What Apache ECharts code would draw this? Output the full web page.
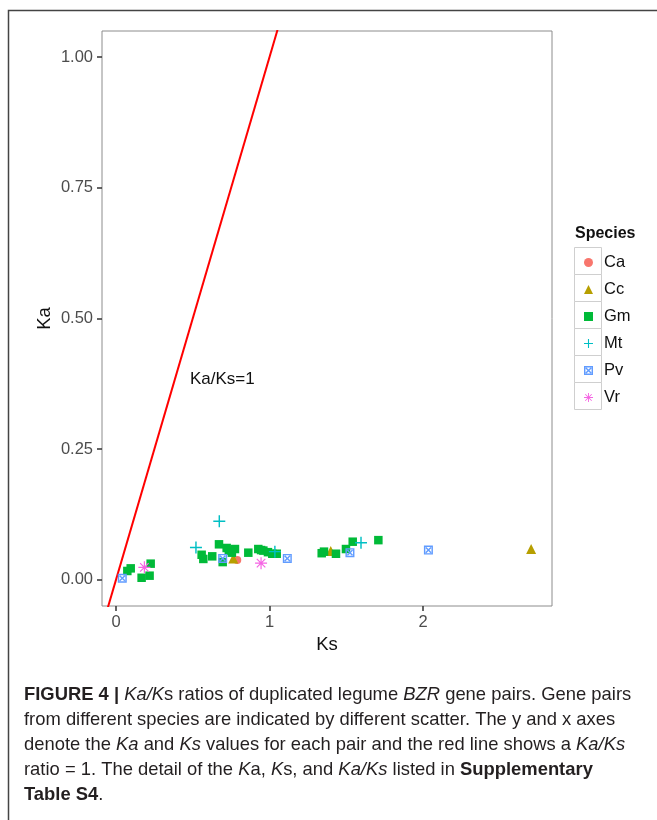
<!DOCTYPE html>
<html>
<head>
<meta charset="utf-8">
<script src="https://cdn.jsdelivr.net/npm/echarts@6/dist/echarts.min.js"></script>
<style>
  html, body { margin: 0; padding: 0; background: #fff; }
  #main { width: 657px; height: 820px; }
</style>
</head>
<body>
<div id="main"></div>
<script>
// Ks / Ka pairs per species
var species = ['Ca', 'Cc', 'Gm', 'Mt', 'Pv', 'Vr']
var caPairs = [[0.79, 0.038]]
var ccPairs = [[0.764, 0.041], [1.399, 0.055], [2.704, 0.059]]
var gmPairs = [
  [0.074, 0.017], [0.096, 0.022], [0.167, 0.004], [0.219, 0.008], [0.226, 0.031],
  [0.558, 0.048], [0.569, 0.040], [0.627, 0.045], [0.671, 0.068], [0.721, 0.061],
  [0.735, 0.056], [0.775, 0.059], [0.755, 0.052], [0.695, 0.034], [0.862, 0.052],
  [0.927, 0.059], [0.945, 0.057], [0.96, 0.056], [0.99, 0.053], [1.018, 0.050],
  [1.047, 0.050], [1.34, 0.051], [1.355, 0.054], [1.433, 0.050], [1.498, 0.059],
  [1.542, 0.073], [1.709, 0.076]
]
var mtPairs = [[0.521, 0.062], [0.673, 0.112], [1.035, 0.054], [1.596, 0.071]]
var pvPairs = [[0.041, 0.003], [0.695, 0.041], [1.116, 0.041], [1.524, 0.052], [2.035, 0.057]]
var vrPairs = [[0.185, 0.024], [0.945, 0.032]]
var ratioLine = [[-0.2, -0.2], [1.2, 1.2]]
var xTicks = [0, 1, 2]
var yTicks = [0, 0.25, 0.5, 0.75, 1]

var colors = ['#F8766D', '#B79F00', '#00BA38', '#00BFC4', '#619CFF', '#F564E3']
var PLUS = 'path://M4.4,0H5.6V4.4H10V5.6H5.6V10H4.4V5.6H0V4.4H4.4Z'
var BOXX = 'path://M0,0H10V10H0ZM1.6,8.4H8.4V1.6H1.6ZM1.6,2.7L2.7,1.6L5,3.9L7.3,1.6L8.4,2.7L6.1,5L8.4,7.3L7.3,8.4L5,6.1L2.7,8.4L1.6,7.3L3.9,5Z'
var STAR = 'path://M4.5,0H5.5V3.8L8.2,1.1L8.9,1.8L6.2,4.5H10V5.5H6.2L8.9,8.2L8.2,8.9L5.5,6.2V10H4.5V6.2L1.8,8.9L1.1,8.2L3.8,5.5H0V4.5H3.8L1.1,1.8L1.8,1.1L4.5,3.8Z'
var shapes = ['circle', 'triangle', 'rect', PLUS, BOXX, STAR]
var sizes = [8, 10, 8.5, 12, 9, 12]
var pairs = [caPairs, ccPairs, gmPairs, mtPairs, pvPairs, vrPairs]

var FONT = 'Liberation Sans, Arial, sans-serif'

var series = species.map(function (name, i) {
  return {
    name: name,
    type: 'scatter',
    data: pairs[i],
    symbol: shapes[i],
    symbolSize: sizes[i],
    itemStyle: { color: colors[i], opacity: 1 },
    z: 3
  }
})
series.unshift({
  name: 'ratio',
  type: 'line',
  data: ratioLine,
  symbol: 'none',
  lineStyle: { color: '#ff0000', width: 2 },
  silent: true,
  z: 2
})

var keyBoxes = species.map(function (s, i) {
  return {
    type: 'rect',
    shape: { x: 574.5, y: 247.5 + i * 27, width: 27, height: 27 },
    style: { fill: '#fff', stroke: '#cfcfcf', lineWidth: 1 },
    z: 0
  }
})

function captionLine(y, parts) {
  var text = parts.map(function (p) { return '{' + p[0] + '|' + p[1] + '}' }).join('')
  return {
    type: 'text',
    left: 24,
    top: y - 11,
    style: {
      text: text,
      rich: {
        n: { fontSize: 18.4, fontFamily: FONT, fill: '#231f20' },
        i: { fontSize: 18.4, fontFamily: FONT, fontStyle: 'italic', fill: '#231f20' },
        b: { fontSize: 18.4, fontFamily: FONT, fontWeight: 'bold', fill: '#231f20' }
      }
    }
  }
}

var option = {
  animation: false,
  backgroundColor: '#fff',
  grid: {
    left: 102, top: 31, width: 450, height: 575,
    show: true, borderColor: '#8c8c8c', borderWidth: 1, backgroundColor: '#fff'
  },
  xAxis: {
    type: 'value', min: -0.091, max: 2.84,
    name: 'Ks', nameLocation: 'middle', nameGap: 29,
    nameTextStyle: { fontSize: 18.5, fontFamily: FONT, color: '#111' },
    axisLine: { show: false, onZero: false },
    splitLine: { show: false },
    axisTick: { show: true, length: 5, customValues: xTicks, lineStyle: { color: '#333', width: 1.5 } },
    axisLabel: { customValues: xTicks, fontSize: 16.5, fontFamily: FONT, color: '#4d4d4d', margin: 8 }
  },
  yAxis: {
    type: 'value', min: -0.05, max: 1.05,
    name: 'Ka', nameLocation: 'middle', nameGap: 48, nameRotate: 90, nameMoveOverlap: false,
    nameTextStyle: { fontSize: 18.5, fontFamily: FONT, color: '#111' },
    axisLine: { show: false, onZero: false },
    splitLine: { show: false },
    axisTick: { show: true, length: 5, customValues: yTicks, lineStyle: { color: '#333', width: 1.5 } },
    axisLabel: {
      customValues: yTicks, fontSize: 16.5, fontFamily: FONT, color: '#4d4d4d', margin: 9,
      formatter: function (v) { return v.toFixed(2) }
    }
  },
  legend: {
    data: species,
    orient: 'vertical',
    left: 579, top: 249,
    itemWidth: 9, itemHeight: 9, itemGap: 10,
    textStyle: { fontSize: 16.5, fontFamily: FONT, color: '#111', padding: [0, 0, 0, 6] }
  },
  series: series,
  graphic: keyBoxes.concat([
    {
      type: 'polyline',
      shape: { points: [[657, 10.5], [8.5, 10.5], [8.5, 820]] },
      style: { stroke: '#444', lineWidth: 1.5, fill: null }
    },
    {
      type: 'text', left: 575, top: 226,
      style: { text: 'Species', fontSize: 16, fontWeight: 'bold', fontFamily: FONT, fill: '#111' }
    },
    captionLine(697, [['b', 'FIGURE 4 | '], ['i', 'Ka/K'], ['n', 's ratios of duplicated legume '], ['i', 'BZR'], ['n', ' gene pairs. Gene pairs']]),
    captionLine(722, [['n', 'from different species are indicated by different scatter. The y and x axes']]),
    captionLine(747, [['n', 'denote the '], ['i', 'Ka'], ['n', ' and '], ['i', 'Ks'], ['n', ' values for each pair and the red line shows a '], ['i', 'Ka/Ks']]),
    captionLine(772, [['n', 'ratio = 1. The detail of the '], ['i', 'K'], ['n', 'a, '], ['i', 'K'], ['n', 's, and '], ['i', 'Ka/Ks'], ['n', ' listed in '], ['b', 'Supplementary']]),
    captionLine(797, [['b', 'Table S4'], ['n', '.']])
  ])
}

var chart = echarts.init(document.getElementById('main'), null, { renderer: 'canvas' })
chart.setOption(option)

// label for the Ka/Ks = 1 line
var labelPos = chart.convertToPixel({ gridIndex: 0 }, [0.482, 0.38])
chart.setOption({
  graphic: option.graphic.concat([{
    type: 'text', left: labelPos[0], top: labelPos[1] - 10,
    style: { text: 'Ka/Ks=1', fontSize: 17, fontFamily: FONT, fill: '#111' }
  }])
})
</script>
</body>
</html>
